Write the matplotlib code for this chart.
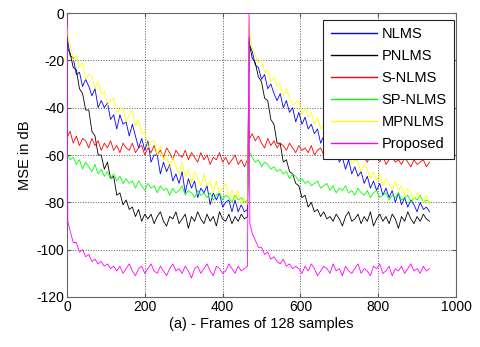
import numpy as np
import matplotlib
matplotlib.use("Agg")
import matplotlib.pyplot as plt

plt.rcParams['font.family'] = ['Liberation Sans', 'DejaVu Sans']
plt.rcParams['axes.unicode_minus'] = False

# frame offsets inside one run of the experiment (the run restarts at frame 468)
seg_offsets = [0, 2] + list(range(8, 465, 8))
seg_len = 468
frames = np.array(seg_offsets + [o + seg_len for o in seg_offsets])

labels = ["NLMS", "PNLMS", "S-NLMS", "SP-NLMS", "MPNLMS", "Proposed"]
colors = ["#0000ff", "#000000", "#ff0000", "#00ff00", "#ffff00", "#ff00ff"]

nlms_a = [-10,-12,-18,-19,-26,-25,-31,-28,-31,-35, -32,-40,-37,-40,-38,-45,-43,-49,-43,-47,
          -46,-52,-47,-52,-57,-53,-58,-54,-63,-60, -60,-68,-63,-67,-64,-71,-68,-72,-67,-76,
          -70,-74,-71,-78,-74,-76,-73,-81,-76,-79, -76,-82,-80,-79,-84,-79,-84,-81,-84,-83]
nlms_b = [-10,-14,-16,-22,-23,-28,-26,-32,-30,-34, -37,-34,-40,-37,-42,-40,-46,-42,-47,-44,
          -49,-47,-51,-49,-55,-52,-57,-55,-61,-58, -63,-61,-66,-62,-68,-65,-69,-67,-72,-69,
          -74,-71,-75,-72,-77,-74,-78,-75,-80,-76, -81,-78,-82,-79,-81,-84,-80,-83,-82,-84]

pnlms_a = [-12,-15,-17,-23,-24,-32,-34,-41,-41,-50, -52,-60,-60,-66,-63,-70,-69,-77,-76,-81,
           -79,-83,-82,-86,-83,-88,-85,
           -87,-85,-89,-86,-84,-88,-90,-86,-87,-84, -89,-87,-85,-91,-86,-88,-84,-87,-89,-85,
           -88,-86,-90,-84,-87,-88,-85,-89,-86,-88, -85,-87,-86]
pnlms_b = [-12,-14,-19,-21,-27,-29,-36,-37,-45,-47, -55,-55,-63,-62,-67,-68,-72,-73,-78,-77,
           -82,-80,-84,-83,-86,-84,-87,
           -86,-88,-85,-87,-90,-86,-84,-88,-87,-85, -89,-86,-88,-84,-90,-87,-85,-88,-86,-89,
           -85,-87,-91,-86,-88,-84,-87,-89,-86,-88, -85,-87,-88]

snlms_a = [-50,-52,-50,-55,-52,-56,-53,-54,-57,-53, -56,-54,-58,-55,-57,-54,-58,-56,-59,-55,
           -57,-58,-55,-59,-57,-56,-60,-57,-59,-56, -60,-58,-61,-57,-59,-62,-58,-60,-61,-58,
           -62,-59,-61,-63,-59,-62,-60,-64,-61,-62, -59,-63,-61,-64,-62,-60,-64,-62,-65,-62]
snlms_b = [-50,-53,-51,-54,-52,-55,-57,-53,-56,-54, -57,-55,-56,-58,-55,-57,-59,-56,-58,-57,
           -59,-56,-60,-58,-57,-60,-58,-61,-57,-60, -59,-61,-58,-62,-60,-59,-62,-60,-61,-63,
           -60,-62,-61,-63,-60,-64,-62,-61,-63,-62, -64,-61,-63,-65,-62,-64,-63,-62,-65,-63]

spnlms_a = [-58,-60,-62,-61,-64,-62,-66,-63,-65,-67, -64,-68,-66,-69,-67,-70,-68,-71,-69,-72,
            -70,-72,-71,-74,-71,-73,-75,-72,-74,-73, -76,-73,-75,-74,-77,-74,-76,-75,-73,-77,
            -75,-76,-78,-75,-77,-76,-78,-76,-79,-77, -76,-79,-77,-78,-80,-77,-79,-78,-80,-79]
spnlms_b = [-57,-59,-61,-63,-62,-65,-63,-64,-66,-65, -67,-66,-68,-67,-70,-68,-69,-71,-70,-72,
            -71,-73,-72,-71,-74,-73,-72,-75,-73,-76, -74,-75,-73,-76,-75,-77,-74,-76,-77,-75,
            -78,-76,-75,-78,-77,-76,-79,-77,-78,-76, -79,-78,-77,-80,-78,-79,-77,-80,-79,-80]

mpnlms_a = [-6,-10,-13,-20,-18,-23,-21,-28,-26,-27, -32,-29,-34,-33,-39,-37,-36,-42,-41,-40,
            -46,-43,-41,-48,-45,-51,-50,-57,-54,-54, -60,-56,-62,-60,-66,-61,-65,-68,-63,-69,
            -66,-72,-67,-70,-73,-68,-73,-71,-76,-71, -76,-74,-72,-78,-75,-79,-75,-81,-78,-81]
mpnlms_b = [-3,-9,-15,-18,-21,-20,-25,-24,-29,-27, -31,-30,-35,-32,-36,-39,-38,-37,-43,-40,
            -44,-42,-47,-44,-49,-47,-53,-50,-56,-53, -59,-57,-61,-59,-64,-62,-63,-67,-64,-66,
            -70,-67,-71,-68,-73,-70,-72,-75,-71,-75, -73,-77,-74,-76,-79,-76,-78,-80,-77,-81]

proposed_a = [0,-88,-92,-97,-97,-101,-100,-103,-102,-105, -104,-106,-105,-107,-106,-108,-107,
              -109,-107,-110,-108,-106,-109,-111,-108,-107,-110, -108,-106,-109,-110,-107,-109,-111,-108,-106,-109,
              -108,-110,-107,-109,-112,-108,-107,-110,-108,-106, -109,-111,-107,-108,-110,-109,-106,-108,-110,-107,
              -109,-108,-107]
proposed_b = [0,-89,-93,-96,-99,-99,-102,-101,-104,-103, -105,-106,-104,-107,-106,-108,-107,
              -108,-110,-107,-109,-106,-108,-111,-109,-107,-108, -110,-106,-109,-108,-111,-107,-109,-110,-108,-106,
              -110,-108,-109,-111,-107,-108,-106,-110,-109,-107, -111,-108,-109,-107,-110,-108,-106,-109,-108,-110,
              -107,-109,-108]

series = [nlms_a + nlms_b, pnlms_a + pnlms_b, snlms_a + snlms_b,
          spnlms_a + spnlms_b, mpnlms_a + mpnlms_b, proposed_a + proposed_b]

for lab, s in zip(labels, series):
    if len(s) != len(frames):
        raise ValueError(f"{lab}: {len(s)} vs {len(frames)}")

fig = plt.figure(figsize=(4.8, 3.47), dpi=100)
ax = fig.add_axes([0.1396, 0.1441, 0.8104, 0.8184])

for lab, s, c in zip(labels, series, colors):
    ax.plot(frames, s, color=c, linewidth=0.6, label=lab, zorder=3)

ax.set_xlim(0, 1000)
ax.set_ylim(-120, 0)
ax.set_xticks(np.arange(0, 1001, 200))
ax.set_yticks(np.arange(-120, 1, 20))
ax.tick_params(direction='in', top=True, right=True, length=3, labelsize=10,
               color='#555555', pad=2)
ax.grid(True, linestyle=':', color='#555555', linewidth=0.7)
for sp in ax.spines.values():
    sp.set_color('#666666')
    sp.set_linewidth(0.8)

ax.set_xlabel("(a) - Frames of 128 samples", fontsize=10.5, labelpad=2)
ax.set_ylabel("MSE in dB", fontsize=10.5, labelpad=3)

leg = ax.legend(loc='upper right', bbox_to_anchor=(0.9949, 0.9754), borderaxespad=0,
                fontsize=10.5, handlelength=3.2, handletextpad=0.3, labelspacing=0.55,
                borderpad=0.5, fancybox=False, framealpha=1, edgecolor='#222222')
leg.get_frame().set_linewidth(0.8)
for ln in leg.get_lines():
    ln.set_linewidth(1.0)

fig.savefig("out.png", dpi=100)
